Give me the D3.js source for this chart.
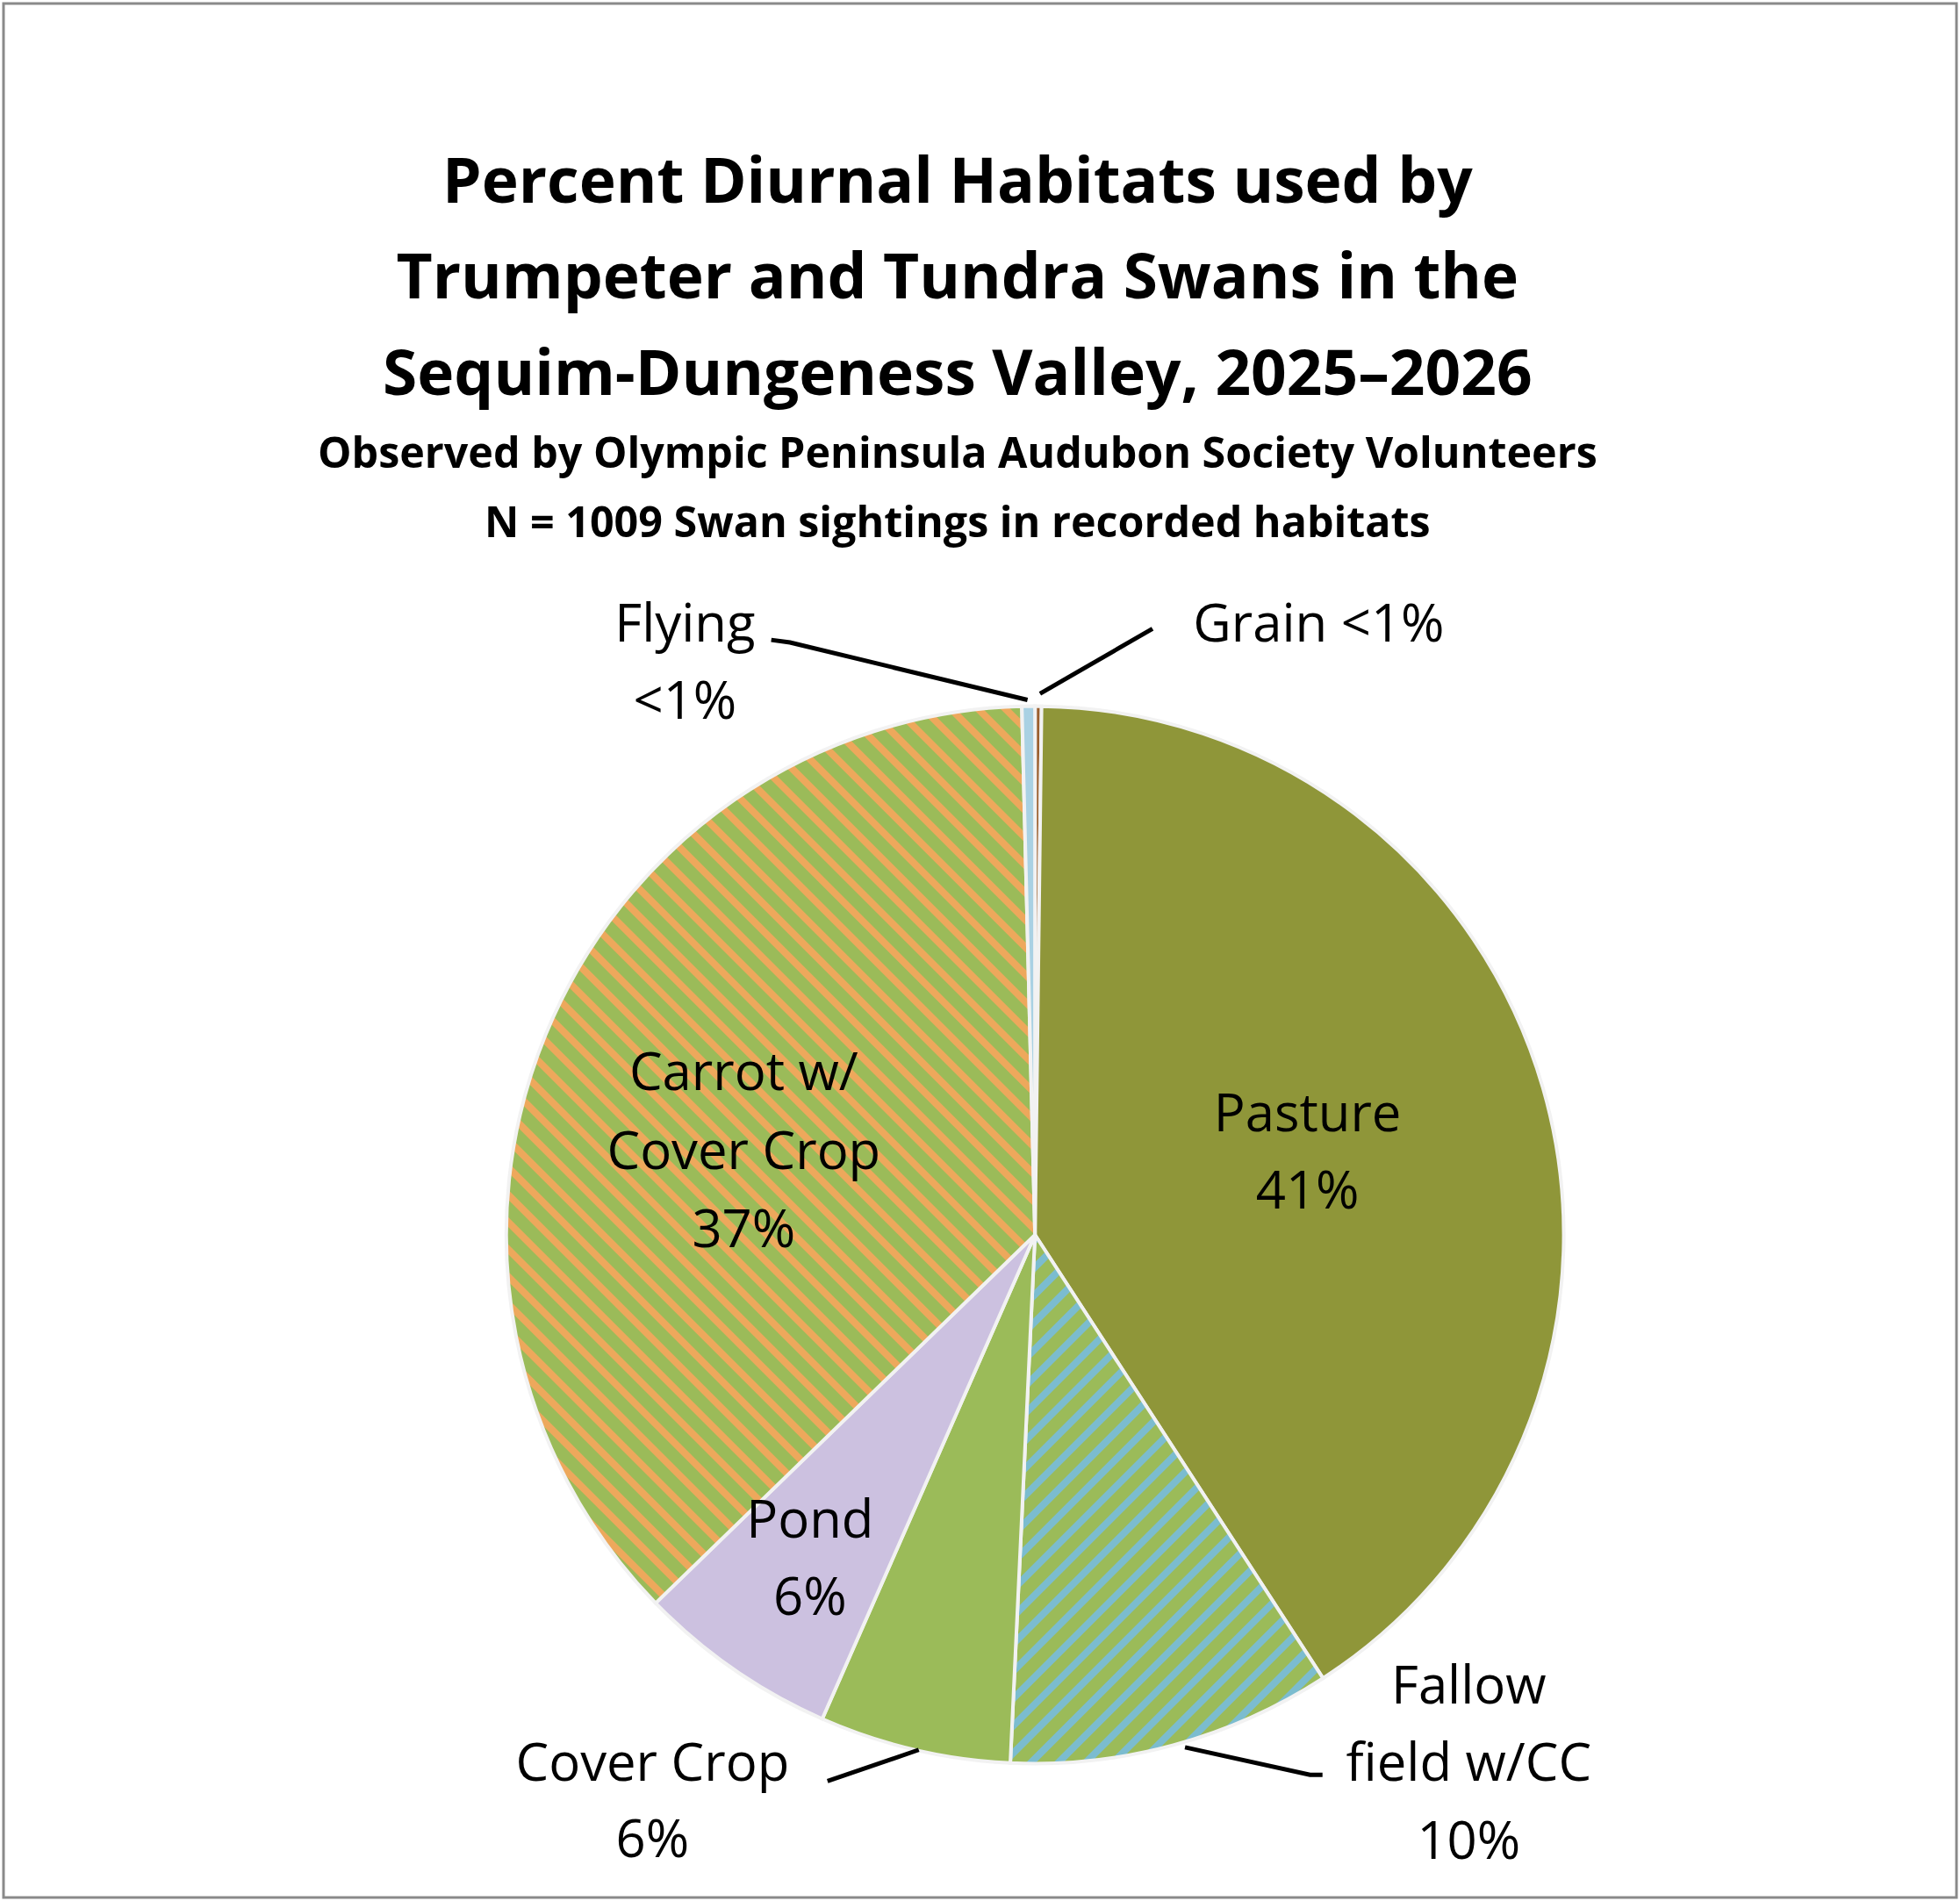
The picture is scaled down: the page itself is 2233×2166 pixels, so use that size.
<!DOCTYPE html>
<html><head><meta charset="utf-8">
<script src="https://cdn.jsdelivr.net/npm/d3@7"></script>
<style>body{margin:0;background:#fff}svg{display:block}</style>
</head><body>
<script>
const categories = ["Grain", "Pasture", "Fallow field w/CC", "Cover Crop", "Pond", "Carrot w/ Cover Crop", "Flying"];
const counts = [2, 410, 100, 59, 62, 372, 4];
const labelTexts = [["Grain <1%"], ["Pasture", "41%"], ["Fallow", "field w/CC", "10%"], ["Cover Crop", "6%"], ["Pond", "6%"], ["Carrot w/", "Cover Crop", "37%"], ["Flying", "<1%"]];
const titleLines = ["Percent Diurnal Habitats used by", "Trumpeter and Tundra Swans in the", "Sequim-Dungeness Valley, 2025\u20132026"];
const subtitleLines = ["Observed by Olympic Peninsula Audubon Society Volunteers", "N = 1009 Swan sightings in recorded habitats"];

const W = 2233, H = 2166, s = 2233/1568;
const fills = ["#9B5F2E", "#8F9639", "url(#fallow)", "#9BBB59", "#CCC1E0", "url(#carrot)", "#A9D1E3"];
const svg = d3.select("body").append("svg").attr("width", W).attr("height", H);
svg.append("rect").attr("x", 4).attr("y", 4).attr("width", W-8).attr("height", H-8)
  .attr("fill", "#fff").attr("stroke", "#8a8a8a").attr("stroke-width", 3);
const defs = svg.append("defs");
function stripes(id, base, stripe, rot){
  const p = defs.append("pattern").attr("id", id).attr("patternUnits", "userSpaceOnUse")
    .attr("width", 22).attr("height", 22).attr("patternTransform", `rotate(${rot})`);
  p.append("rect").attr("width", 22).attr("height", 22).attr("fill", base);
  p.append("rect").attr("width", 8).attr("height", 22).attr("fill", stripe);
}
stripes("carrot", "#9BBB59", "#EDA85C", -45);
stripes("fallow", "#9BBB59", "#7BBCCF", 45);

const font = "'Open Sans', 'Liberation Sans', sans-serif";
titleLines.forEach((t,i)=>svg.append("text").attr("x", 766*s).attr("y", (162+77*i)*s)
  .attr("text-anchor","middle").attr("font-family",font).attr("font-weight",700)
  .attr("font-size", 50*s).attr("fill","#000").text(t));
subtitleLines.forEach((t,i)=>svg.append("text").attr("x", 766*s).attr("y", (374+56*i)*s)
  .attr("text-anchor","middle").attr("font-family",font).attr("font-weight",700)
  .attr("font-size", 34*s).attr("fill","#000").text(t));

const cx = 828*s, cy = 988*s, r = 423*s;
const pie = d3.pie().sort(null).value(d=>d);
const arc = d3.arc().innerRadius(0).outerRadius(r);
const g = svg.append("g").attr("transform", `translate(${cx},${cy})`);
g.selectAll("path").data(pie(counts)).join("path").attr("d", arc)
  .attr("fill", (d,i)=>fills[i]).attr("stroke","#f2f2f2").attr("stroke-width", 4);

// leader lines
const leaders = [
  [[832,555],[922,503]],
  null,
  [[948,1398],[1048,1420],[1058,1420]],
  [[662,1425],[735,1400]],
  null, null,
  [[617,512],[632,514],[822,560]]
];
leaders.forEach(l=>{ if(!l) return;
  svg.append("path").attr("d", d3.line()(l.map(p=>[p[0]*s,p[1]*s])))
    .attr("fill","none").attr("stroke","#000").attr("stroke-width",5);
});
// labels (text positions, display coords)
const labelPos = [[1055,498],[1046,890],[1175,1348],[522,1410],[648,1215],[595,857],[548,498]];
const lineGap = [0,62,62,61,62,63,62];
labelTexts.forEach((lines,i)=>lines.forEach((t,j)=>
  svg.append("text").attr("x", labelPos[i][0]*s).attr("y", (labelPos[i][1]+j*lineGap[i]+15)*s)
    .attr("text-anchor","middle").attr("font-family",font).attr("font-size",42*s)
    .attr("fill","#000").text(t)));
</script>
</body></html>
